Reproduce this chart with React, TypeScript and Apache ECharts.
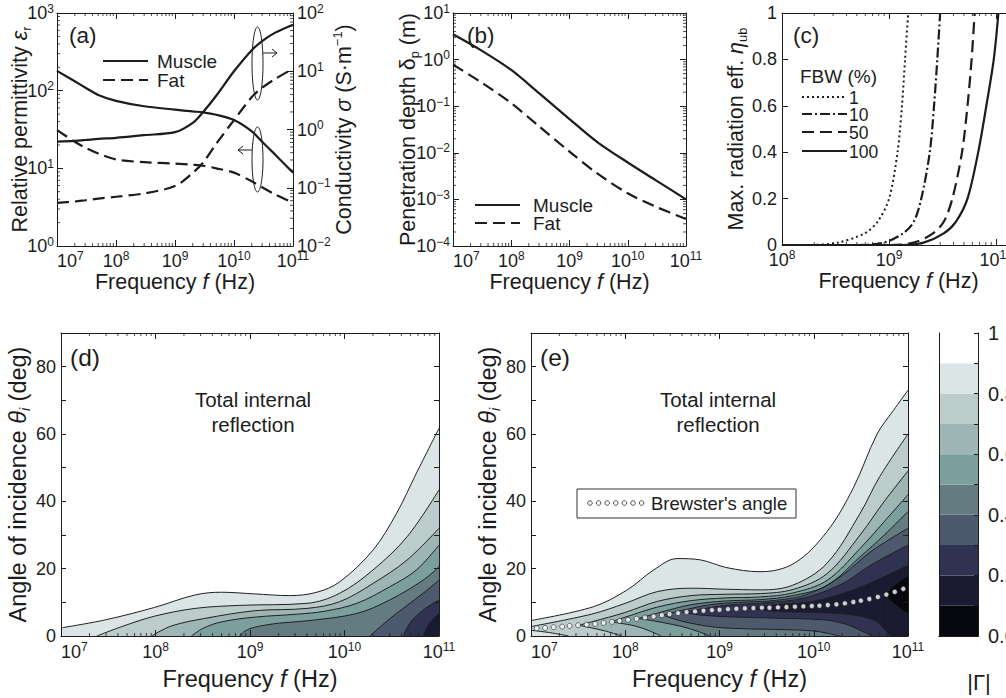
import React, { useEffect, useRef } from 'react';
import * as echarts from 'echarts';

const FONT = '"Liberation Sans", Arial, Helvetica, sans-serif';
const INK = '#1c1c1c';

// ---------------- (a) dielectric properties ----------------
const freqA = [1e7, 2e7, 3e7, 5e7, 1e8, 3e8, 1e9, 2e9, 3e9, 5e9, 1e10, 2e10, 3e10, 5e10, 1e11];
const muscleEps = [180, 132, 110, 88, 74, 63, 57, 54, 52.5, 49, 42, 30, 22, 15, 8.8];
const fatEps = [31, 22, 18.5, 15.5, 13, 12, 11.5, 11.1, 10.8, 10, 8.8, 6.8, 5.7, 4.6, 3.6];
const muscleSigma = [0.62, 0.64, 0.66, 0.69, 0.72, 0.8, 0.9, 1.3, 2.0, 3.8, 10, 23, 33, 46, 63];
const fatSigma = [0.055, 0.058, 0.061, 0.065, 0.07, 0.08, 0.107, 0.18, 0.27, 0.57, 1.45, 3.6, 5.2, 7.4, 11];

// ---------------- (b) penetration depth ----------------
const freqB = [1e7, 3e7, 1e8, 3e8, 1e9, 3e9, 1e10, 3e10, 1e11];
const muscleDepth = [3.5, 1.6, 0.6, 0.19, 0.053, 0.017, 0.0062, 0.0026, 0.001];
const fatDepth = [0.78, 0.33, 0.116, 0.037, 0.0106, 0.0036, 0.00135, 0.0007, 0.00038];

// ---------------- (c) max radiation efficiency [Hz, eta] ----------------
const fbw1 = [[1e8, 0], [1.8e8, 0], [3.3e8, 0.01], [5.9e8, 0.05], [7.8e8, 0.1], [1e9, 0.2], [1.2e9, 0.4], [1.32e9, 0.6], [1.41e9, 0.8], [1.51e9, 1]];
const fbw10 = [[1e8, 0], [5e8, 0], [8.9e8, 0.01], [1.35e9, 0.05], [1.7e9, 0.1], [2e9, 0.2], [2.4e9, 0.4], [2.63e9, 0.6], [2.82e9, 0.8], [3e9, 1]];
const fbw50 = [[1e8, 0], [1e9, 0], [1.7e9, 0.01], [2.57e9, 0.05], [3.24e9, 0.1], [3.9e9, 0.2], [4.8e9, 0.4], [5.4e9, 0.6], [5.9e9, 0.8], [6.3e9, 1]];
const fbw100 = [[1e8, 0], [1.35e9, 0], [2.1e9, 0.01], [3.24e9, 0.05], [4.2e9, 0.1], [5.4e9, 0.2], [6.8e9, 0.4], [8.1e9, 0.6], [9.5e9, 0.8], [1.05e10, 1]];
const fbwLabels = ['1', '10', '50', '100'];

// ---------------- (d) |Gamma| contour lines [Hz, deg] ----------------
const dG90 = [[1e7, 2.4], [2.95e7, 4.8], [9.8e7, 8.5], [2.63e8, 12.2], [5e8, 13], [1.12e9, 12.5], [2.63e9, 12], [5.1e9, 13], [8.9e9, 16.1], [2e10, 25.5], [3.55e10, 36.4], [5.75e10, 48.3], [1e11, 61.7]];
const dG80 = [[2.4e7, 0], [4.4e7, 2.8], [9.8e7, 5.9], [2.63e8, 8.2], [7.8e8, 9.1], [4e9, 9.7], [8.9e9, 12.7], [2e10, 19.6], [4.6e10, 29.5], [1e11, 43.4]];
const dG70 = [[9.1e7, 0], [1.48e8, 3], [3.3e8, 5.2], [1.12e9, 7.5], [4e9, 8.2], [8.9e9, 10.2], [2e10, 15.6], [4.6e10, 22.6], [1e11, 32]];
const dG60 = [[2.4e8, 0], [3.2e8, 2.3], [5e8, 4.2], [1.12e9, 5.6], [3.2e9, 6.5], [6.3e9, 7.4], [1.35e10, 9.7], [3e10, 14.6], [5.75e10, 19.6], [1e11, 27]];
const dG50 = [[7.8e8, 0], [8.9e8, 1.5], [1.12e9, 2.6], [2e9, 3.8], [4e9, 4.5], [1.35e10, 6.7], [3e10, 10.7], [6.8e10, 16.6], [1e11, 20.6]];
const dG40 = [[1.86e10, 0], [2.4e10, 2.8], [3.55e10, 6.7], [6.8e10, 12.7], [1e11, 16.6]];
const dG30 = [[4.2e10, 0], [4.9e10, 3.8], [6.8e10, 7.7], [1e11, 10.7]];
const dG20 = [[6.8e10, 0], [7.9e10, 3.8], [1e11, 6.7]];
const dLevels = [0.9, 0.8, 0.7, 0.6, 0.5, 0.4, 0.3, 0.2];

// ---------------- (e) |Gamma| contour lines: upper (U) and lower (L) branches ----------------
const eU90 = [[1e7, 4.6], [4.6e7, 8.7], [1.05e8, 13.7], [2e8, 19.6], [3.55e8, 23], [6.3e8, 22.6], [1.2e9, 20.3], [2.7e9, 19.1], [6.2e9, 21.6], [1.38e10, 31], [2.63e10, 44], [4.7e10, 60], [7e10, 67], [1e11, 73]];
const eU80 = [[1e7, 2.8], [4.4e7, 6.5], [1e8, 9.7], [2.2e8, 13.2], [5.1e8, 14.2], [1.15e9, 13.9], [2.7e9, 13.7], [6e9, 15.1], [1.38e10, 21.6], [3.1e10, 36.4], [5e10, 47.3], [1e11, 60]];
const eU70 = [[3.2e7, 3.2], [4.4e7, 4.2], [1e8, 7], [2.2e8, 10.3], [5e8, 12], [1.15e9, 12.4], [2.7e9, 12.6], [6e9, 13.8], [1.38e10, 18.5], [3.1e10, 30], [5.6e10, 40], [1e11, 49]];
const eU60 = [[7.1e7, 4.2], [1e8, 5.6], [2.2e8, 8.6], [5e8, 10.5], [1.15e9, 11.3], [2.7e9, 11.6], [6e9, 12.8], [1.38e10, 16.5], [3.1e10, 26], [5.6e10, 34], [1e11, 42]];
const eU50 = [[1.4e8, 5.2], [2.2e8, 6.8], [5e8, 9.3], [1.15e9, 10.4], [2.7e9, 10.8], [6e9, 12], [1.38e10, 15], [3.1e10, 23.5], [5.6e10, 30], [1e11, 37]];
const eU40 = [[2.5e8, 6.2], [4e8, 7.6], [8e8, 9.3], [1.6e9, 10], [4e9, 10.6], [8.9e9, 12.5], [2e10, 18], [4e10, 25], [1e11, 32]];
const eU30 = [[4e8, 7.0], [6.3e8, 8.0], [1.26e9, 9.2], [3.2e9, 9.9], [7.9e9, 11.3], [2e10, 15.5], [4e10, 21], [1e11, 27]];
const eU20 = [[2e9, 8.2], [4e9, 9.3], [1e10, 10.3], [2.5e10, 13.5], [5e10, 17], [1e11, 21]];
const eU10 = [[5.6e10, 12.3], [7.1e10, 15], [1e11, 18]];
const eL80 = [[1e7, 1.7], [1.58e7, 1.0], [2.5e7, 0]];
const eL70 = [[3.2e7, 3.2], [4.4e7, 2.4], [6.3e7, 1.4], [9.1e7, 0]];
const eL60 = [[7.1e7, 4.2], [1.26e8, 3.0], [1.78e8, 1.6], [2.4e8, 0]];
const eL50 = [[1.4e8, 5.2], [2.5e8, 4.0], [4e8, 2.8], [6e8, 1.3], [7.8e8, 0]];
const eL40 = [[2.5e8, 6.2], [4e8, 4.4], [8e8, 2.8], [1.6e9, 2.2], [5e9, 1.9], [1e10, 1.5], [1.4e10, 0.8], [1.86e10, 0]];
const eL30 = [[4e8, 7.0], [6.3e8, 6.2], [1.26e9, 5.7], [4e9, 5.3], [1.26e10, 4.8], [2.2e10, 3.5], [3.2e10, 1.5], [4.2e10, 0]];
const eL20 = [[2e9, 8.2], [4e9, 7.3], [1e10, 7.0], [2.5e10, 6.3], [4.5e10, 4.5], [5.6e10, 2.0], [6.5e10, 0]];
const eL10 = [[5.6e10, 12.3], [7.1e10, 9.5], [1e11, 6.5]];
const eLevels = [0.9, 0.8, 0.7, 0.6, 0.5, 0.4, 0.3, 0.2, 0.1];

// Brewster's angle markers [Hz, deg]
const brewster = [
  [1.15e7, 2.3], [1.41e7, 2.4], [1.74e7, 2.6], [2.14e7, 2.8], [2.57e7, 3.0], [3.16e7, 3.2], [3.89e7, 3.4], [4.79e7, 3.6],
  [5.89e7, 3.9], [7.24e7, 4.2], [8.71e7, 4.5], [1.07e8, 4.8], [1.32e8, 5.1], [1.62e8, 5.5], [2.0e8, 5.8], [2.45e8, 6.2],
  [2.95e8, 6.5], [3.63e8, 6.8], [4.47e8, 7.1], [5.5e8, 7.3], [6.76e8, 7.5], [8.32e8, 7.7], [1.0e9, 7.8], [1.23e9, 8.0],
  [1.51e9, 8.1], [1.86e9, 8.2], [2.29e9, 8.3], [2.82e9, 8.4], [3.39e9, 8.4], [4.17e9, 8.5], [5.13e9, 8.6], [6.31e9, 8.7],
  [7.76e9, 8.8], [9.55e9, 8.9], [1.15e10, 9.0], [1.41e10, 9.2], [1.74e10, 9.4], [2.14e10, 9.7], [2.63e10, 10.1],
  [3.16e10, 10.5], [3.89e10, 11.0], [4.79e10, 11.6], [5.89e10, 12.3], [7.24e10, 13.1], [8.91e10, 14.0],
];

// colour bar: |Gamma| bands from 0 (bottom) to 1 (top)
const bandColors = ['#07070e', '#1a1a30', '#303252', '#4d5a6e', '#647b82', '#7b9f9c', '#9db5b3', '#bccccb', '#dbe5e5', '#ffffff'];
const bandWidth = [0.1, 0.1, 0.1, 0.1, 0.1, 0.1, 0.1, 0.1, 0.1, 0.1];

// ---------------- helpers ----------------
const lineSt = { color: INK, width: 1 };
const powRich = {
  b: { fontSize: 18, fontFamily: FONT, color: INK, lineHeight: 21 },
  s: { fontSize: 12, fontFamily: FONT, color: INK, lineHeight: 12, verticalAlign: 'top' },
};
function powLabel(v: number) {
  const e = Math.round(Math.log10(v));
  return `{b|10}{s|${e < 0 ? '\u2212' + Math.abs(e) : e}}`;
}
function nameRich(fs: number) {
  const base = { fontSize: fs, fontFamily: FONT, color: INK, lineHeight: fs + 5 };
  return {
    n: base,
    i: { ...base, fontStyle: 'italic' },
    g: { ...base, fontStyle: 'italic' },
    gu: { ...base },
    s: { fontSize: fs * 0.6, fontFamily: FONT, color: INK, lineHeight: fs * 0.65, verticalAlign: 'bottom' },
    si: { fontSize: fs * 0.6, fontFamily: FONT, color: INK, lineHeight: fs * 0.65, verticalAlign: 'bottom', fontStyle: 'italic' },
    sup: { fontSize: fs * 0.6, fontFamily: FONT, color: INK, lineHeight: fs * 0.65, verticalAlign: 'top' },
  };
}
const freqName = '{n|Frequency }{i|f}{n| (Hz)}';

function nameOpts(o: any) {
  return {
    name: o.name, nameLocation: 'middle', nameGap: o.nameGap, nameRotate: o.nameRotate, nameMoveOverlap: false,
    nameTextStyle: o.name ? { fontSize: o.nameSize, fontFamily: FONT, color: INK, rich: nameRich(o.nameSize) } : undefined,
  };
}
function logAxis(gridIndex: number, min: number, max: number, position: string, o: any = {}) {
  return {
    type: 'log', logBase: 10, gridIndex, min, max, position, z: 10,
    axisLine: { show: true, onZero: false, lineStyle: lineSt },
    axisTick: { show: true, inside: true, length: 6, lineStyle: lineSt },
    axisLabel: o.labels
      ? { show: true, margin: o.margin ?? 4, formatter: powLabel, rich: powRich, alignMinLabel: o.alignMin, showMaxLabel: o.showMax ?? true, showMinLabel: true }
      : { show: false },
    splitLine: { show: false },
    ...nameOpts(o),
  };
}
function valAxis(gridIndex: number, min: number, max: number, interval: number, position: string, o: any = {}) {
  return {
    type: 'value', gridIndex, min, max, interval, position, z: 10,
    axisLine: { show: true, onZero: false, lineStyle: lineSt },
    axisTick: { show: o.ticks ?? true, inside: true, length: o.tickLen ?? 6, lineStyle: lineSt },
    axisLabel: o.labels
      ? { show: true, margin: o.margin ?? 5, formatter: o.formatter, fontSize: o.labelSize ?? 18, fontFamily: FONT, color: INK }
      : { show: false },
    splitLine: { show: false },
    ...nameOpts(o),
  };
}
function logMinor(lo: number, hi: number) {
  const out: number[] = [];
  for (let e = Math.floor(Math.log10(lo)); e < Math.ceil(Math.log10(hi)); e++) {
    for (let m = 2; m <= 9; m++) {
      const v = m * Math.pow(10, e);
      if (v > lo * 1.0001 && v < hi * 0.9999) out.push(v);
    }
  }
  return out;
}
const tickStyle = { stroke: INK, lineWidth: 0.8 };
function xMinor(xi: number, yi: number, lo: number, hi: number, yLo: number, yHi: number) {
  return {
    type: 'custom', xAxisIndex: xi, yAxisIndex: yi, z: 20, silent: true,
    data: logMinor(lo, hi).map((v) => [v, yLo]),
    renderItem: (_p: any, api: any) => {
      const x = api.value(0);
      const b = api.coord([x, yLo]);
      const t = api.coord([x, yHi]);
      return {
        type: 'group', children: [
          { type: 'line', shape: { x1: b[0], y1: b[1], x2: b[0], y2: b[1] - 3 }, style: tickStyle },
          { type: 'line', shape: { x1: t[0], y1: t[1], x2: t[0], y2: t[1] + 3 }, style: tickStyle },
        ],
      };
    },
  };
}
function yMinor(xi: number, yi: number, lo: number, hi: number, xLo: number, xHi: number, left: boolean, right: boolean) {
  return {
    type: 'custom', xAxisIndex: xi, yAxisIndex: yi, z: 20, silent: true,
    data: logMinor(lo, hi).map((v) => [xLo, v]),
    renderItem: (_p: any, api: any) => {
      const y = api.value(1);
      const l = api.coord([xLo, y]);
      const r = api.coord([xHi, y]);
      const ch: any[] = [];
      if (left) ch.push({ type: 'line', shape: { x1: l[0], y1: l[1], x2: l[0] + 3, y2: l[1] }, style: tickStyle });
      if (right) ch.push({ type: 'line', shape: { x1: r[0], y1: r[1], x2: r[0] - 3, y2: r[1] }, style: tickStyle });
      return { type: 'group', children: ch };
    },
  };
}
function curve(xi: number, yi: number, data: any[], type: any, width = 2.2) {
  return {
    type: 'line', xAxisIndex: xi, yAxisIndex: yi, data, showSymbol: false, smooth: 0.3, silent: true,
    lineStyle: { color: INK, width, type },
  };
}
function zipXY(xs: number[], ys: number[]) {
  return xs.map((x, i) => [x, ys[i]]);
}
function contour(xi: number, data: any[], fill: string) {
  return {
    type: 'line', xAxisIndex: xi, yAxisIndex: xi, data, showSymbol: false, smooth: 0.35, silent: true, z: 2,
    lineStyle: { color: '#202020', width: 1 },
    areaStyle: { color: fill, opacity: 1 },
  };
}
function txt(x: number, y: number, text: string, size: number, align = 'left', extra: any = {}) {
  return {
    type: 'text', x, y, z: 100, silent: true,
    style: { text, fill: INK, font: `${size}px ${FONT}`, textAlign: align, align, textVerticalAlign: 'middle', verticalAlign: 'middle', ...extra },
  };
}
function seg(x1: number, y1: number, x2: number, y2: number, dash: any, w = 2.2) {
  return { type: 'line', z: 100, silent: true, shape: { x1, y1, x2, y2 }, style: { stroke: INK, lineWidth: w, lineDash: dash } };
}

function buildOption() {
  const DASH = [12, 6];
  const DOT = [2, 3];
  const DASHDOT = [10, 3, 2, 3];

  const grids = [
    { left: 57, top: 13, width: 236, height: 233 },
    { left: 453, top: 13, width: 233, height: 233 },
    { left: 782, top: 13, width: 233, height: 232 },
    { left: 61, top: 333, width: 378, height: 303 },
    { left: 531, top: 333, width: 377, height: 303 },
    { left: 939, top: 333, width: 39, height: 303 },
  ].map((g) => ({ ...g, containLabel: false, outerBoundsMode: 'none' }));

  const xAxis = [
    logAxis(0, 1e7, 1e11, 'bottom', { labels: true, alignMin: 'left', name: freqName, nameGap: 23, nameSize: 21.5 }),
    logAxis(0, 1e7, 1e11, 'top'),
    logAxis(1, 1e7, 1e11, 'bottom', { labels: true, alignMin: 'left', name: freqName, nameGap: 23, nameSize: 21.5 }),
    logAxis(1, 1e7, 1e11, 'top'),
    logAxis(2, 1e8, 1.5e10, 'bottom', { labels: true, showMax: false, name: freqName, nameGap: 22.5, nameSize: 21.5 }),
    logAxis(2, 1e8, 1.5e10, 'top'),
    logAxis(3, 1e7, 1e11, 'bottom', { labels: true, alignMin: 'left', margin: 5, name: freqName, nameGap: 29, nameSize: 23.5 }),
    logAxis(3, 1e7, 1e11, 'top'),
    logAxis(4, 1e7, 1e11, 'bottom', { labels: true, alignMin: 'left', margin: 5, name: freqName, nameGap: 29, nameSize: 23.5 }),
    logAxis(4, 1e7, 1e11, 'top'),
    { type: 'category', gridIndex: 5, data: [''], position: 'bottom', z: 10, axisLine: { show: true, lineStyle: lineSt }, axisTick: { show: false }, axisLabel: { show: false } },
    { type: 'category', gridIndex: 5, data: [''], position: 'top', z: 10, axisLine: { show: true, lineStyle: lineSt }, axisTick: { show: false }, axisLabel: { show: false } },
  ];

  const degFmt = (v: number) => (Math.round(v) % 20 === 0 ? String(Math.round(v)) : '');
  const cbFmt = (v: number) => {
    const r = Math.round(v * 10);
    if (r % 2) return '';
    return r === 10 ? '1' : (r / 10).toFixed(1);
  };

  const yAxis = [
    logAxis(0, 1, 1000, 'left', { labels: true, margin: 3, name: '{n|Relative permittivity }{g|\u03b5}{s|r}', nameGap: 24, nameRotate: 90, nameSize: 21.5 }),
    logAxis(0, 0.01, 100, 'right', { labels: true, margin: 4, name: '{n|Conductivity }{g|\u03c3}{n| (S\u00b7m}{sup|\u22121}{n|)}', nameGap: 38, nameRotate: 90, nameSize: 21.5 }),
    logAxis(1, 1e-4, 10, 'left', { labels: true, margin: 3, name: '{n|Penetration depth }{gu|\u03b4}{s|p}{n| (m)}', nameGap: 32, nameRotate: 90, nameSize: 21.5 }),
    logAxis(1, 1e-4, 10, 'right'),
    valAxis(2, 0, 1, 0.2, 'left', { labels: true, margin: 5, name: '{n|Max. radiation eff. }{g|\u03b7}{s|ub}', nameGap: 33, nameRotate: 90, nameSize: 21.5 }),
    valAxis(2, 0, 1, 0.2, 'right'),
    valAxis(3, 0, 90, 10, 'left', { labels: true, formatter: degFmt, tickLen: 5, name: '{n|Angle of incidence }{g|\u03b8}{si|i}{n| (deg)}', nameGap: 29, nameRotate: 90, nameSize: 23.5 }),
    valAxis(3, 0, 90, 10, 'right', { tickLen: 5 }),
    valAxis(4, 0, 90, 10, 'left', { labels: true, formatter: degFmt, tickLen: 5, name: '{n|Angle of incidence }{g|\u03b8}{si|i}{n| (deg)}', nameGap: 29, nameRotate: 90, nameSize: 23.5 }),
    valAxis(4, 0, 90, 10, 'right', { tickLen: 5 }),
    valAxis(5, 0, 1, 0.1, 'left', { ticks: false }),
    valAxis(5, 0, 1, 0.1, 'right', { labels: true, formatter: cbFmt, tickLen: 4, margin: 10, labelSize: 20 }),
  ];

  const series: any[] = [];
  // (a)
  series.push(curve(0, 0, zipXY(freqA, muscleEps), 'solid'));
  series.push(curve(0, 0, zipXY(freqA, fatEps), DASH));
  series.push(curve(0, 1, zipXY(freqA, muscleSigma), 'solid'));
  series.push(curve(0, 1, zipXY(freqA, fatSigma), DASH));
  // (b)
  series.push(curve(2, 2, zipXY(freqB, muscleDepth), 'solid'));
  series.push(curve(2, 2, zipXY(freqB, fatDepth), DASH));
  // (c)
  series.push(curve(4, 4, fbw1, DOT, 2));
  series.push(curve(4, 4, fbw10, DASHDOT, 2.2));
  series.push(curve(4, 4, fbw50, DASH, 2.2));
  series.push(curve(4, 4, fbw100, 'solid', 2.2));
  // (d) filled contours, outermost first
  const dCurves = [dG90, dG80, dG70, dG60, dG50, dG40, dG30, dG20];
  dCurves.forEach((c, i) => series.push(contour(6, c, bandColors[Math.round(dLevels[i] * 10) - 1])));
  // (e) upper branches (outermost first), then lower branches
  const eUpper = [eU90, eU80, eU70, eU60, eU50, eU40, eU30, eU20, eU10];
  eUpper.forEach((c, i) => series.push(contour(8, c, bandColors[Math.round(eLevels[i] * 10) - 1])));
  const eLower = [eL10, eL20, eL30, eL40, eL50, eL60, eL70, eL80];
  const eLowerLevels = [0.1, 0.2, 0.3, 0.4, 0.5, 0.6, 0.7, 0.8];
  eLower.forEach((c, i) => series.push(contour(8, c, bandColors[Math.round(eLowerLevels[i] * 10)])));
  series.push({
    type: 'scatter', xAxisIndex: 8, yAxisIndex: 8, data: brewster, symbol: 'circle', symbolSize: 5, z: 4, silent: true,
    itemStyle: { color: '#ffffff', borderColor: '#2a2a2a', borderWidth: 0.8 },
  });
  // colour bar
  bandColors.forEach((c, i) => series.push({
    type: 'bar', xAxisIndex: 10, yAxisIndex: 10, stack: 'cb', data: [bandWidth[i]], barWidth: '100%', silent: true,
    itemStyle: { color: c },
  }));
  // minor log ticks
  series.push(xMinor(0, 0, 1e7, 1e11, 1, 1000));
  series.push(yMinor(0, 0, 1, 1000, 1e7, 1e11, true, false));
  series.push(yMinor(0, 1, 0.01, 100, 1e7, 1e11, false, true));
  series.push(xMinor(2, 2, 1e7, 1e11, 1e-4, 10));
  series.push(yMinor(2, 2, 1e-4, 10, 1e7, 1e11, true, true));
  series.push(xMinor(4, 4, 1e8, 1.5e10, 0, 1));
  series.push(xMinor(6, 6, 1e7, 1e11, 0, 90));
  series.push(xMinor(8, 8, 1e7, 1e11, 0, 90));

  const legendLH = { lineHeight: 16 };
  const graphic: any[] = [
    txt(69, 35, '(a)', 22.5),
    txt(467, 35, '(b)', 22.5),
    txt(793, 35, '(c)', 22.5),
    txt(70, 357, '(d)', 24.5),
    txt(540, 357, '(e)', 24.5),
    // (a) legend
    seg(103, 61, 148, 61, null), txt(157, 61, 'Muscle', 19, 'left', legendLH),
    seg(103, 80, 148, 80, DASH), txt(157, 80, 'Fat', 19, 'left', legendLH),
    // (a) ellipses and arrows
    { type: 'ellipse', z: 100, silent: true, shape: { cx: 257.5, cy: 63.5, rx: 5.5, ry: 36.5 }, style: { fill: 'none', stroke: INK, lineWidth: 1 } },
    seg(263, 53, 277, 53, null, 1),
    { type: 'polyline', z: 100, silent: true, shape: { points: [[272, 49], [277, 53], [272, 57]] }, style: { fill: 'none', stroke: INK, lineWidth: 1 } },
    { type: 'ellipse', z: 100, silent: true, shape: { cx: 257.5, cy: 159.5, rx: 5.5, ry: 32.5 }, style: { fill: 'none', stroke: INK, lineWidth: 1 } },
    seg(252, 150, 238, 150, null, 1),
    { type: 'polyline', z: 100, silent: true, shape: { points: [[243, 146], [238, 150], [243, 154]] }, style: { fill: 'none', stroke: INK, lineWidth: 1 } },
    // (b) legend
    seg(475, 205, 520, 205, null), txt(533, 205, 'Muscle', 19, 'left', legendLH),
    seg(475, 223, 520, 223, DASH), txt(533, 223, 'Fat', 19, 'left', legendLH),
    // (c) legend
    txt(800, 76, 'FBW (%)', 19, 'left', legendLH),
    seg(802, 97, 847, 97, DOT, 2), txt(849, 97.5, fbwLabels[0], 17.5, 'left', legendLH),
    seg(802, 114, 847, 114, DASHDOT, 2.2), txt(849, 114.5, fbwLabels[1], 17.5, 'left', legendLH),
    seg(802, 132, 847, 132, DASH, 2.2), txt(849, 132.5, fbwLabels[2], 17.5, 'left', legendLH),
    seg(802, 151, 847, 151, null, 2.2), txt(849, 151.5, fbwLabels[3], 17.5, 'left', legendLH),
    // (d), (e) annotations
    txt(253, 412, 'Total internal\nreflection', 20.5, 'center', { lineHeight: 25 }),
    txt(718, 412, 'Total internal\nreflection', 20.5, 'center', { lineHeight: 25 }),
    { type: 'rect', z: 99, silent: true, shape: { x: 577, y: 489, width: 219, height: 29 }, style: { fill: '#ffffff', stroke: '#333333', lineWidth: 1 } },
    txt(651, 503.5, "Brewster's angle", 18.5),
    txt(979, 682, '|\u0393|', 22, 'center'),
  ];
  for (let i = 0; i < 7; i++) {
    graphic.push({ type: 'circle', z: 100, silent: true, shape: { cx: 590 + i * 8.6, cy: 503, r: 2.3 }, style: { fill: '#ffffff', stroke: '#2a2a2a', lineWidth: 0.8 } });
  }

  return {
    animation: false,
    backgroundColor: '#ffffff',
    textStyle: { fontFamily: FONT },
    grid: grids,
    xAxis,
    yAxis,
    series,
    graphic,
  };
}

export default function App() {
  const ref = useRef<HTMLDivElement>(null);
  useEffect(() => {
    if (!ref.current) return;
    const chart = echarts.init(ref.current, undefined, { renderer: 'svg' });
    chart.setOption(buildOption() as any);
    return () => chart.dispose();
  }, []);
  return (
    <div
      ref={ref}
      style={{ position: 'absolute', left: 0, top: 0, width: 1006, height: 698, background: '#ffffff' }}
    />
  );
}
